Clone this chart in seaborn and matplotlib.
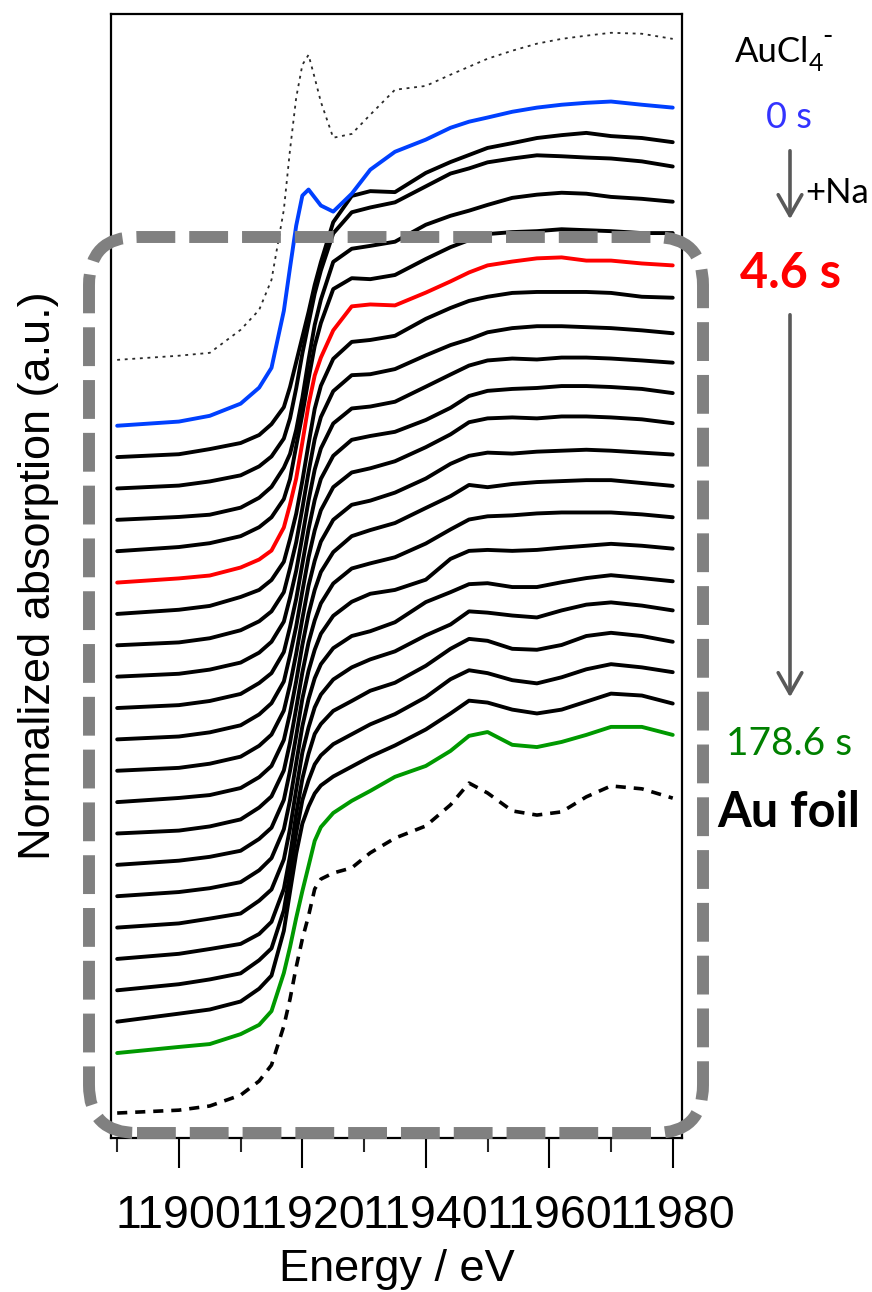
import matplotlib
matplotlib.use("Agg")
import numpy as np
import pandas as pd
import matplotlib.pyplot as plt
import seaborn as sns
from matplotlib.patches import FancyBboxPatch, FancyArrowPatch
from matplotlib.ticker import FixedLocator

# Energy grid (eV) shared by every spectrum
energy = [11890, 11900, 11905, 11910, 11913, 11915, 11917, 11918, 11919, 11920,
          11921, 11922, 11923, 11925, 11928, 11931, 11935, 11940, 11944, 11947,
          11950, 11954, 11958, 11962, 11966, 11970, 11975, 11980]

# Reference spectra (normalized absorption)
ref_aucl4 = [0, 0.013, 0.022, 0.094, 0.156, 0.25, 0.469, 0.656, 0.819, 0.922,
             0.953, 0.881, 0.806, 0.694, 0.706, 0.766, 0.844, 0.856, 0.891, 0.916,
             0.941, 0.966, 0.988, 1.003, 1.013, 1.022, 1.019, 1.003]
ref_au_foil = [0, 0.009, 0.022, 0.056, 0.1, 0.15, 0.272, 0.356, 0.456, 0.544,
               0.616, 0.7, 0.731, 0.75, 0.766, 0.813, 0.859, 0.897, 0.963, 1.031,
               1.0, 0.944, 0.931, 0.941, 0.988, 1.022, 1.013, 0.984]

# Time-resolved spectra after reductant addition (first = 0 s, #5 = 4.6 s, last = 178.6 s)
spec_00 = [0, 0.013, 0.031, 0.069, 0.119, 0.181, 0.359, 0.494, 0.625, 0.719,
           0.738, 0.713, 0.688, 0.669, 0.725, 0.8, 0.856, 0.894, 0.931, 0.95,
           0.963, 0.981, 0.994, 1.003, 1.009, 1.013, 1.003, 0.994]
spec_01 = [0, 0.009, 0.025, 0.044, 0.069, 0.103, 0.156, 0.219, 0.297, 0.375,
           0.453, 0.538, 0.609, 0.734, 0.816, 0.831, 0.828, 0.888, 0.922, 0.944,
           0.966, 0.981, 0.997, 1.006, 1.013, 1.003, 0.997, 0.984]
spec_02 = [0, 0.009, 0.022, 0.041, 0.069, 0.1, 0.156, 0.219, 0.313, 0.422,
           0.516, 0.609, 0.681, 0.797, 0.863, 0.878, 0.894, 0.944, 0.984, 1.0,
           1.019, 1.031, 1.041, 1.038, 1.034, 1.031, 1.022, 1.006]
spec_03 = [0, 0.009, 0.016, 0.038, 0.069, 0.103, 0.163, 0.206, 0.281, 0.381,
           0.5, 0.609, 0.688, 0.806, 0.847, 0.856, 0.869, 0.922, 0.95, 0.966,
           0.984, 1.006, 1.016, 1.022, 1.019, 1.009, 1.003, 0.994]
spec_04 = [0, 0.013, 0.025, 0.047, 0.075, 0.106, 0.163, 0.225, 0.328, 0.428,
           0.538, 0.641, 0.713, 0.819, 0.853, 0.85, 0.863, 0.913, 0.95, 0.972,
           0.991, 0.997, 1.0, 1.006, 1.003, 1.0, 0.994, 0.994]
spec_05 = [0, 0.013, 0.022, 0.047, 0.072, 0.1, 0.172, 0.244, 0.325, 0.438,
           0.556, 0.647, 0.703, 0.788, 0.863, 0.869, 0.866, 0.906, 0.941, 0.969,
           0.991, 1.003, 1.013, 1.016, 1.006, 1.006, 0.997, 0.991]
spec_06 = [0, 0.013, 0.025, 0.053, 0.075, 0.106, 0.163, 0.234, 0.313, 0.416,
           0.531, 0.641, 0.713, 0.797, 0.85, 0.856, 0.869, 0.922, 0.956, 0.978,
           0.991, 1.003, 1.006, 1.006, 1.006, 1.003, 0.991, 0.988]
spec_07 = [0, 0.009, 0.022, 0.047, 0.075, 0.106, 0.166, 0.241, 0.322, 0.428,
           0.541, 0.644, 0.713, 0.794, 0.844, 0.847, 0.863, 0.906, 0.938, 0.956,
           0.978, 0.991, 0.997, 0.997, 0.994, 0.991, 0.984, 0.975]
spec_08 = [0, 0.009, 0.022, 0.044, 0.075, 0.109, 0.172, 0.247, 0.331, 0.438,
           0.55, 0.647, 0.713, 0.791, 0.838, 0.844, 0.859, 0.906, 0.944, 0.972,
           0.988, 0.994, 0.991, 0.997, 0.997, 0.994, 0.988, 0.981]
spec_09 = [0, 0.009, 0.022, 0.044, 0.078, 0.109, 0.175, 0.253, 0.341, 0.45,
           0.559, 0.65, 0.716, 0.788, 0.838, 0.85, 0.863, 0.9, 0.938, 0.975,
           0.991, 0.997, 1.0, 1.006, 1.006, 1.003, 0.997, 0.984]
spec_10 = [0, 0.009, 0.022, 0.044, 0.078, 0.113, 0.181, 0.263, 0.353, 0.463,
           0.569, 0.653, 0.716, 0.788, 0.834, 0.847, 0.869, 0.913, 0.953, 0.991,
           1.003, 1.006, 1.003, 1.009, 1.009, 1.006, 1.0, 0.988]
spec_11 = [0, 0.009, 0.022, 0.044, 0.078, 0.113, 0.188, 0.269, 0.366, 0.475,
           0.578, 0.656, 0.716, 0.784, 0.831, 0.844, 0.869, 0.913, 0.959, 0.984,
           0.994, 0.991, 0.997, 1.0, 1.003, 1.0, 0.994, 0.988]
spec_12 = [0, 0.013, 0.022, 0.044, 0.078, 0.113, 0.194, 0.278, 0.378, 0.491,
           0.588, 0.663, 0.719, 0.781, 0.831, 0.85, 0.872, 0.919, 0.956, 0.991,
           0.984, 0.994, 1.0, 1.003, 1.006, 1.006, 0.997, 0.988]
spec_13 = [0, 0.009, 0.022, 0.044, 0.081, 0.116, 0.197, 0.284, 0.391, 0.503,
           0.597, 0.666, 0.719, 0.781, 0.828, 0.844, 0.863, 0.906, 0.95, 0.981,
           0.991, 0.994, 1.0, 1.003, 1.003, 1.003, 0.997, 0.988]
spec_14 = [0, 0.013, 0.025, 0.044, 0.081, 0.116, 0.203, 0.294, 0.403, 0.519,
           0.606, 0.672, 0.722, 0.778, 0.822, 0.847, 0.859, 0.891, 0.956, 0.981,
           0.984, 0.981, 0.984, 0.991, 0.997, 1.003, 0.997, 0.988]
spec_15 = [0, 0.013, 0.025, 0.044, 0.081, 0.119, 0.209, 0.3, 0.416, 0.531,
           0.616, 0.681, 0.725, 0.775, 0.813, 0.828, 0.856, 0.919, 0.95, 0.975,
           0.978, 0.966, 0.966, 0.981, 0.994, 1.003, 0.994, 0.984]
spec_16 = [0, 0.013, 0.028, 0.044, 0.084, 0.119, 0.213, 0.309, 0.431, 0.547,
           0.625, 0.688, 0.728, 0.775, 0.813, 0.838, 0.863, 0.913, 0.947, 0.988,
           0.984, 0.975, 0.969, 0.991, 1.009, 1.016, 1.006, 0.991]
spec_17 = [0, 0.016, 0.031, 0.047, 0.078, 0.116, 0.219, 0.322, 0.453, 0.563,
           0.641, 0.703, 0.734, 0.775, 0.806, 0.838, 0.863, 0.916, 0.969, 1.0,
           0.994, 0.969, 0.966, 0.981, 1.009, 1.019, 1.009, 0.991]
spec_18 = [0, 0.019, 0.034, 0.053, 0.094, 0.131, 0.25, 0.366, 0.491, 0.594,
           0.656, 0.706, 0.734, 0.769, 0.8, 0.831, 0.863, 0.916, 0.972, 1.0,
           0.991, 0.969, 0.959, 0.978, 1.003, 1.019, 1.009, 0.994]
spec_19 = [0, 0.025, 0.038, 0.063, 0.103, 0.144, 0.284, 0.406, 0.525, 0.619,
           0.672, 0.713, 0.738, 0.766, 0.797, 0.828, 0.863, 0.913, 0.963, 1.003,
           0.997, 0.975, 0.963, 0.975, 1.0, 1.025, 1.019, 0.994]
spec_20 = [0, 0.019, 0.028, 0.059, 0.088, 0.131, 0.25, 0.331, 0.422, 0.506,
           0.584, 0.663, 0.706, 0.75, 0.788, 0.819, 0.863, 0.897, 0.944, 0.991,
           1.003, 0.963, 0.956, 0.972, 0.994, 1.019, 1.019, 0.994]

time_series = [spec_00, spec_01, spec_02, spec_03, spec_04, spec_05, spec_06,
               spec_07, spec_08, spec_09, spec_10, spec_11, spec_12, spec_13,
               spec_14, spec_15, spec_16, spec_17, spec_18, spec_19, spec_20]

tick_values = [11900, 11920, 11940, 11960, 11980]
tick_labels = ["11900", "11920", "11940", "11960", "11980"]

label_start = "0 s"
label_mid = "4.6 s"
label_end = "178.6 s"
label_foil = "Au foil"
label_reductant = "+Na"

# ---------------------------------------------------------------- styling
sns.set_theme(style="ticks")
plt.rcParams["font.family"] = ["Liberation Sans", "DejaVu Sans"]

W, H = 872, 1292
fig = plt.figure(figsize=(W / 100, H / 100), dpi=100)
fig.patch.set_facecolor("white")
ax = fig.add_axes([111 / W, 154 / H, 571 / W, 1124 / H])
ax.set_facecolor("white")

step = 0.098
n = len(time_series)
offset_last = 0.1875


def offset_of(i):
    return offset_last + (n - 1 - i) * step


highlight = {0: "#0040ff", 5: "#ff0000", n - 1: "#009900"}
lw = 2.8

# black intermediate spectra first, coloured ones on top
for i, spec in enumerate(time_series):
    if i in highlight:
        continue
    df = pd.DataFrame({"E": energy, "mu": np.asarray(spec) + offset_of(i)})
    sns.lineplot(data=df, x="E", y="mu", ax=ax, color="black", linewidth=lw,
                 estimator=None, sort=False, errorbar=None)

for i, col in highlight.items():
    df = pd.DataFrame({"E": energy, "mu": np.asarray(time_series[i]) + offset_of(i)})
    sns.lineplot(data=df, x="E", y="mu", ax=ax, color=col, linewidth=lw,
                 estimator=None, sort=False, errorbar=None, zorder=3)

df_ref = pd.DataFrame({"E": energy, "mu": np.asarray(ref_aucl4) + offset_of(0) + 2.1 * step})
sns.lineplot(data=df_ref, x="E", y="mu", ax=ax, color="#2a2a2a", linewidth=1.3,
             linestyle=(0, (1.6, 2.6)), estimator=None, sort=False, errorbar=None)

df_foil = pd.DataFrame({"E": energy, "mu": np.asarray(ref_au_foil)})
sns.lineplot(data=df_foil, x="E", y="mu", ax=ax, color="black", linewidth=2.6,
             linestyle=(0, (2.8, 2.2)), estimator=None, sort=False, errorbar=None)

# ---------------------------------------------------------------- axes
ax.set_xlim(11889, 11981.5)
ax.set_ylim(-0.078, 3.434)
ax.xaxis.set_major_locator(FixedLocator(tick_values))
ax.xaxis.set_minor_locator(FixedLocator([11890, 11910, 11930, 11950, 11970]))
ax.set_xticklabels(tick_labels)
ax.set_yticks([])
ax.tick_params(axis="x", which="major", length=21.6, width=1.5, direction="out",
               pad=19, labelsize=33.5, colors="black")
ax.tick_params(axis="x", which="minor", length=10, width=1.5, direction="out")
for sp in ax.spines.values():
    sp.set_visible(True)
    sp.set_color("black")
    sp.set_linewidth(1.6)

ax.set_xlabel("Energy / eV", fontsize=32.5, color="black")
ax.xaxis.set_label_coords(0.5, -0.099)
ax.set_ylabel("Normalized absorption (a.u.)", fontsize=32.5, color="black")
ax.yaxis.set_label_coords(-0.0904, 0.5)

# ---------------------------------------------------------------- box and annotations
box = FancyBboxPatch((0.89, 1.59), 6.14, 8.96,
                     boxstyle="round,pad=0,rounding_size=0.48",
                     transform=fig.dpi_scale_trans, fill=False,
                     edgecolor="#808080", linewidth=8.6,
                     linestyle=(0, (3.25, 1.17)), zorder=10)
fig.add_artist(box)


def px(x, y):
    return x / 100, (H - y) / 100


arrow_kw = dict(transform=fig.dpi_scale_trans, color="#595959", linewidth=2.6,
                arrowstyle="->,head_length=15,head_width=8.5", mutation_scale=1)
fig.add_artist(FancyArrowPatch(px(790, 148), px(790, 222), **arrow_kw))
fig.add_artist(FancyArrowPatch(px(790, 312), px(790, 700), **arrow_kw))

side_font = ["Lato", "DejaVu Sans"]


def ftext(x, y, s, ha="center", **kw):
    fig.text(x / W, 1 - y / H, s, ha=ha, va="baseline", family=side_font, **kw)


# AuCl4- built from pieces so the charge is a short hyphen
ftext(735, 62, "AuCl", ha="left", fontsize=25, color="black")
ftext(809, 71, "4", ha="left", fontsize=18, color="black")
ftext(822, 45, "-", ha="left", fontsize=20, color="black")

ftext(789, 128, label_start, fontsize=26, color="#3333ff")
ftext(869, 203, label_reductant, ha="right", fontsize=25, color="black")
ftext(790, 288, label_mid, fontsize=35, color="#ff0000", fontweight="bold")
ftext(789, 755, label_end, fontsize=28, color="#008000")
ftext(789, 827, label_foil, fontsize=35, color="black", fontweight="bold")

fig.savefig("out.png", dpi=100, facecolor="white")
